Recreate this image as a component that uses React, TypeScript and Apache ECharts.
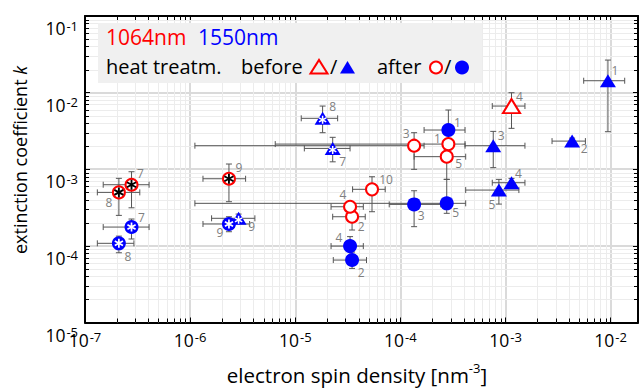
import React, { useEffect, useRef } from "react";
import * as echarts from "echarts";

// Each point: [label, x, y, xLow, xHigh, yLow, yHigh]
type Pt = [string, number, number, number, number, number, number];

const X_MIN = 1e-7;
const X_MAX = 0.0182;
const Y_MIN = 1e-5;
const Y_MAX = 0.1;

// 1064 nm, after heat treatment (open red circles)
const redAfter: Pt[] = [
  ["1", 2.86e-4, 2.13e-3, 6.45e-6, 4.12e-4, 1.85e-3, 2.45e-3],
  ["2", 3.47e-5, 2.4e-4, 2.27e-5, 4.63e-5, 1.61e-4, 2.79e-4],
  ["3", 1.35e-4, 2.03e-3, 1.11e-6, 1.68e-4, 9.97e-4, 3.0e-3],
  ["4", 3.32e-5, 3.24e-4, 2.19e-5, 4.44e-5, 2.5e-4, 3.77e-4],
  ["5", 2.76e-4, 1.46e-3, 1.35e-4, 4.18e-4, 7.38e-4, 1.8e-3],
  ["10", 5.37e-5, 5.47e-4, 3.51e-5, 7.17e-5, 2.79e-4, 7.98e-4],
];
// 1064 nm, after, marked with asterisk
const redAfterStar: Pt[] = [
  ["7", 2.77e-7, 6.28e-4, 1.49e-7, 4.07e-7, 3.14e-4, 9.28e-4],
  ["8", 2.1e-7, 4.99e-4, 1.31e-7, 3.32e-7, 2.5e-4, 7.61e-4],
  ["9", 2.34e-6, 7.52e-4, 1.325e-6, 3.37e-6, 3.77e-4, 1.17e-3],
];
// 1064 nm, before heat treatment (open red triangle)
const redBefore: Pt[] = [
  ["4", 1.14e-3, 6.68e-3, 7.48e-4, 1.53e-3, 3.42e-3, 9.97e-3],
];
// 1550 nm, after (filled blue circles)
const blueAfter: Pt[] = [
  ["1", 2.86e-4, 3.25e-3, 1.68e-4, 4.12e-4, 2.4e-3, 5.93e-3],
  ["2", 3.47e-5, 6.53e-5, 2.3e-5, 4.76e-5, 5.08e-5, 8.3e-5],
  ["3", 1.35e-4, 3.48e-4, 7.83e-5, 2.42e-4, 1.78e-4, 5.24e-4],
  ["4", 3.32e-5, 9.94e-5, 2.19e-5, 4.44e-5, 7.21e-5, 1.32e-4],
  ["5", 2.76e-4, 3.59e-4, 1.11e-6, 4.18e-4, 2.66e-4, 7.38e-4],
];
const blueAfterStar: Pt[] = [
  ["7", 2.77e-7, 1.76e-4, 1.49e-7, 4.07e-7, 1.23e-4, 2.24e-4],
  ["8", 2.1e-7, 1.08e-4, 1.31e-7, 2.92e-7, 8.13e-5, 1.34e-4],
  ["9", 2.34e-6, 1.93e-4, 1.325e-6, 3.68e-6, 1.53e-4, 2.4e-4],
];
// 1550 nm, before (filled blue triangles)
const blueBefore: Pt[] = [
  ["1", 9.42e-3, 1.43e-2, 5.54e-3, 1.36e-2, 3.09e-3, 2.66e-2],
  ["2", 4.3e-3, 2.33e-3, 2.77e-3, 5.75e-3, 2.1e-3, 2.55e-3],
  ["3", 7.64e-4, 2.03e-3, 4.12e-4, 1.53e-3, 1.05e-3, 3.12e-3],
  ["4", 1.14e-3, 6.67e-4, 7.48e-4, 1.53e-3, 5.8e-4, 7.6e-4],
  ["5", 8.65e-4, 5.35e-4, 4.18e-4, 1.34e-3, 3.51e-4, 7.38e-4],
];
const blueBeforeStar: Pt[] = [
  ["7", 2.27e-5, 1.87e-3, 1.22e-5, 3.32e-5, 1.25e-3, 2.61e-3],
  ["8", 1.82e-5, 4.62e-3, 1.14e-5, 2.53e-5, 3.0e-3, 6.68e-3],
  ["9", 2.89e-6, 2.29e-4, 1.6e-6, 4.13e-6, 2.0e-4, 2.6e-4],
];

const xTickDecades = [-7, -6, -5, -4, -3, -2];
const yTickDecades = [-5, -4, -3, -2, -1];

// label offsets in px (style, not data)
const labelOffsets: Record<string, [number, number]> = {
  "ra1": [-11, -6], "ra2": [9, 10], "ra3": [-8, -12], "ra4": [-7, -12], "ra5": [12, 7], "ra10": [14, -10],
  "ra7": [9, -11], "ra8": [-10, 10], "ra9": [10, -11],
  "rb4": [8, -10],
  "ba1": [9, -8], "ba2": [9, 12], "ba3": [7, 11], "ba4": [-11, -9], "ba5": [9, 9],
  "ba7": [10, -10], "ba8": [9, 13], "ba9": [-9, 9],
  "bb1": [7, -10], "bb2": [12, 7], "bb3": [8, -10], "bb4": [7, -9], "bb5": [-7, 14],
  "bb7": [10, 13], "bb8": [10, -12], "bb9": [13, 8],
};

const FONT = "'Open Sans', 'Noto Sans', sans-serif";
const ASTER =
  "path://M-0.9,-5L0.9,-5L0.9,5L-0.9,5Z M3.88,-3.28L4.78,-1.72L-3.88,3.28L-4.78,1.72Z M4.78,1.72L3.88,3.28L-4.78,-1.72L-3.88,-3.28Z";

function fmtPow(v: number) {
  const l = Math.log10(v);
  const e = Math.round(l);
  if (Math.abs(l - e) > 1e-6) return "";
  return `{b|10}{s|${e}}`;
}

const powRich = {
  b: { fontSize: 17.5, fontFamily: FONT, color: "#000", lineHeight: 18, verticalAlign: "bottom", padding: [10, 0, 0, 0] },
  s: { fontSize: 13, fontFamily: FONT, color: "#000", lineHeight: 13, verticalAlign: "top", padding: [0, 0, 0, 1] },
};

function scatterData(arr: Pt[], key: string) {
  return arr.map((p) => ({
    value: [p[1], p[2]],
    label: { show: true, formatter: p[0], offset: labelOffsets[key + p[0]] || [8, -8] },
  }));
}

export default function App() {
  const ref = useRef<HTMLDivElement>(null);
  useEffect(() => {
    document.body.style.margin = "0";
    if (!ref.current) return;
    const chart = echarts.init(ref.current, undefined, { renderer: "svg" });

    const minorData: number[][] = [];
    for (const d of xTickDecades) {
      for (let m = 2; m <= 9; m++) {
        const v = m * Math.pow(10, d);
        if (v < X_MAX) minorData.push([v, 1e-3, 0]);
      }
    }
    for (const d of yTickDecades) {
      for (let m = 2; m <= 9; m++) {
        const v = m * Math.pow(10, d);
        if (v < Y_MAX) minorData.push([1e-5, v, 1]);
      }
    }

    const allPts = [...redAfter, ...redAfterStar, ...redBefore, ...blueAfter, ...blueAfterStar, ...blueBefore, ...blueBeforeStar];
    const errData = allPts.map((p) => [p[1], p[2], p[3], p[4], p[5], p[6]]);

    const labelBase = { position: "inside", color: "#7f7f7f", fontSize: 12, fontFamily: FONT };

    const option: any = {
      animation: false,
      grid: { left: 85, right: 1, top: 16, bottom: 65.5 },
      xAxis: [
        {
          type: "log", logBase: 10, min: X_MIN, max: X_MAX, position: "bottom",
          axisLine: { show: true, onZero: false, lineStyle: { color: "#000", width: 2 } },
          axisTick: { show: true, inside: true, length: 5, lineStyle: { color: "#000", width: 1 } },
          axisLabel: { formatter: fmtPow, rich: powRich, margin: 8 },
          splitLine: { show: true, lineStyle: { color: "#dadada", width: 2 } },
        },
        {
          type: "log", logBase: 10, min: X_MIN, max: X_MAX, position: "top",
          axisLine: { show: true, onZero: false, lineStyle: { color: "#000", width: 2 } },
          axisTick: { show: true, inside: true, length: 5, lineStyle: { color: "#000", width: 1 } },
          axisLabel: { show: false },
          splitLine: { show: false },
        },
      ],
      yAxis: [
        {
          type: "log", logBase: 10, min: Y_MIN, max: Y_MAX, position: "left",
          axisLine: { show: true, onZero: false, lineStyle: { color: "#000", width: 2 } },
          axisTick: { show: true, inside: true, length: 5, lineStyle: { color: "#000", width: 1 } },
          axisLabel: { formatter: fmtPow, rich: powRich, margin: 7, padding: [24, 0, 0, 0] },
          splitLine: { show: true, lineStyle: { color: "#dadada", width: 2 } },
        },
        {
          type: "log", logBase: 10, min: Y_MIN, max: Y_MAX, position: "right",
          axisLine: { show: true, onZero: false, lineStyle: { color: "#000", width: 2 } },
          axisTick: { show: true, inside: true, length: 5, lineStyle: { color: "#000", width: 1 } },
          axisLabel: { show: false },
          splitLine: { show: false },
        },
      ],
      series: [
        {
          type: "custom",
          z: 1,
          silent: true,
          data: minorData,
          encode: { x: 0, y: 1 },
          renderItem: (params: any, api: any) => {
            const cs = params.coordSys;
            const kind = api.value(2);
            if (kind === 0) {
              const p = api.coord([api.value(0), 1e-3]);
              const x = Math.round(p[0]) + 0.5;
              const y0 = cs.y, y1 = cs.y + cs.height;
              return {
                type: "group",
                children: [
                  { type: "line", shape: { x1: x, y1: y0, x2: x, y2: y1 }, style: { stroke: "#ececec", lineWidth: 1 } },
                  { type: "line", shape: { x1: x, y1: y1, x2: x, y2: y1 - 4 }, style: { stroke: "#000", lineWidth: 1 } },
                  { type: "line", shape: { x1: x, y1: y0, x2: x, y2: y0 + 4 }, style: { stroke: "#000", lineWidth: 1 } },
                ],
              };
            }
            const p = api.coord([1e-5, api.value(1)]);
            const y = Math.round(p[1]) + 0.5;
            const x0 = cs.x, x1 = cs.x + cs.width;
            return {
              type: "group",
              children: [
                { type: "line", shape: { x1: x0, y1: y, x2: x1, y2: y }, style: { stroke: "#ececec", lineWidth: 1 } },
                { type: "line", shape: { x1: x0, y1: y, x2: x0 + 4, y2: y }, style: { stroke: "#000", lineWidth: 1 } },
                { type: "line", shape: { x1: x1, y1: y, x2: x1 - 4, y2: y }, style: { stroke: "#000", lineWidth: 1 } },
              ],
            };
          },
        },
        {
          type: "custom",
          z: 2,
          silent: true,
          data: errData,
          encode: { x: [0, 2, 3], y: [1, 4, 5] },
          renderItem: (params: any, api: any) => {
            const x = api.value(0), y = api.value(1);
            const pl = api.coord([api.value(2), y]);
            const pr = api.coord([api.value(3), y]);
            const pb = api.coord([x, api.value(4)]);
            const pt = api.coord([x, api.value(5)]);
            const c = 3;
            const st = { stroke: "#555555", lineWidth: 1 };
            return {
              type: "group",
              children: [
                { type: "line", shape: { x1: pl[0], y1: pl[1], x2: pr[0], y2: pr[1] }, style: st },
                { type: "line", shape: { x1: pl[0], y1: pl[1] - c, x2: pl[0], y2: pl[1] + c }, style: st },
                { type: "line", shape: { x1: pr[0], y1: pr[1] - c, x2: pr[0], y2: pr[1] + c }, style: st },
                { type: "line", shape: { x1: pb[0], y1: pb[1], x2: pt[0], y2: pt[1] }, style: st },
                { type: "line", shape: { x1: pb[0] - c, y1: pb[1], x2: pb[0] + c, y2: pb[1] }, style: st },
                { type: "line", shape: { x1: pt[0] - c, y1: pt[1], x2: pt[0] + c, y2: pt[1] }, style: st },
              ],
            };
          },
        },
        {
          type: "scatter", z: 3, symbol: "circle", symbolSize: 12,
          itemStyle: { color: "#ffffff", borderColor: "#ff0000", borderWidth: 2, opacity: 1 },
          label: labelBase,
          data: [...scatterData(redAfter, "ra"), ...scatterData(redAfterStar, "ra")],
        },
        {
          type: "scatter", z: 3, symbol: "triangle", symbolSize: [17, 14],
          itemStyle: { color: "#ffffff", borderColor: "#ff0000", borderWidth: 2, opacity: 1 },
          label: labelBase,
          data: scatterData(redBefore, "rb"),
        },
        {
          type: "scatter", z: 3, symbol: "circle", symbolSize: 14,
          itemStyle: { color: "#0000ff", opacity: 1 },
          label: labelBase,
          data: [...scatterData(blueAfter, "ba"), ...scatterData(blueAfterStar, "ba")],
        },
        {
          type: "scatter", z: 3, symbol: "triangle", symbolSize: [16, 13],
          itemStyle: { color: "#0000ff", opacity: 1 },
          label: labelBase,
          data: [...scatterData(blueBefore, "bb"), ...scatterData(blueBeforeStar, "bb")],
        },
        {
          type: "scatter", z: 4, symbol: ASTER, symbolSize: 10, silent: true,
          itemStyle: { color: "#000000", opacity: 1 },
          data: redAfterStar.map((p) => [p[1], p[2]]),
        },
        {
          type: "scatter", z: 4, symbol: ASTER, symbolSize: 9, silent: true,
          itemStyle: { color: "#ffffff", opacity: 1 },
          data: blueAfterStar.map((p) => [p[1], p[2]]),
        },
        {
          type: "scatter", z: 4, symbol: ASTER, symbolSize: 8, symbolOffset: [0, 1.5], silent: true,
          itemStyle: { color: "#ffffff", opacity: 1 },
          data: blueBeforeStar.map((p) => [p[1], p[2]]),
        },
      ],
      graphic: [
        { type: "rect", z: 100, shape: { x: 98, y: 23, width: 384, height: 60 }, style: { fill: "#f0f0f0" } },
        { type: "text", z: 101, x: 106, y: 37, style: { text: "1064nm", fill: "#ff0000", font: `21px ${FONT}`, verticalAlign: "middle" } },
        { type: "text", z: 101, x: 198, y: 37, style: { text: "1550nm", fill: "#0000ff", font: `21px ${FONT}`, verticalAlign: "middle" } },
        { type: "text", z: 101, x: 106, y: 66, style: { text: "heat treatm.", fill: "#000", font: `20px ${FONT}`, verticalAlign: "middle" } },
        { type: "text", z: 101, x: 241, y: 66, style: { text: "before", fill: "#000", font: `20px ${FONT}`, verticalAlign: "middle" } },
        { type: "polygon", z: 101, shape: { points: [[310.5, 73.5], [327.5, 73.5], [319, 60]] }, style: { fill: "none", stroke: "#ff0000", lineWidth: 2 } },
        { type: "text", z: 101, x: 330, y: 66, style: { text: "/", fill: "#000", font: `20px ${FONT}`, verticalAlign: "middle" } },
        { type: "polygon", z: 101, shape: { points: [[340, 73.5], [355, 73.5], [347.5, 61]] }, style: { fill: "#0000ff" } },
        { type: "text", z: 101, x: 377, y: 66, style: { text: "after", fill: "#000", font: `20px ${FONT}`, verticalAlign: "middle" } },
        { type: "circle", z: 101, shape: { cx: 436, cy: 67.5, r: 6 }, style: { fill: "#ffffff", stroke: "#ff0000", lineWidth: 2 } },
        { type: "text", z: 101, x: 444, y: 66, style: { text: "/", fill: "#000", font: `20px ${FONT}`, verticalAlign: "middle" } },
        { type: "circle", z: 101, shape: { cx: 462, cy: 67.5, r: 7 }, style: { fill: "#0000ff" } },
        {
          type: "text", z: 101, x: 357, y: 373,
          style: {
            text: "{n|electron spin density [nm}{s|-3}{n|]}",
            align: "center", verticalAlign: "middle",
            rich: {
              n: { fontSize: 20.5, fontFamily: FONT, fill: "#000", lineHeight: 24, verticalAlign: "bottom" },
              s: { fontSize: 13, fontFamily: FONT, fill: "#000", lineHeight: 13, verticalAlign: "top" },
            },
          },
        },
        {
          type: "text", z: 101, x: 20, y: 160, rotation: Math.PI / 2,
          style: {
            text: "{n|extinction coefficient }{i|k}",
            align: "center", verticalAlign: "middle",
            rich: {
              n: { fontSize: 18, fontFamily: FONT, fill: "#000" },
              i: { fontSize: 18, fontFamily: FONT, fill: "#000", fontStyle: "italic" },
            },
          },
        },
      ],
    };
    chart.setOption(option);
    return () => chart.dispose();
  }, []);
  return <div ref={ref} style={{ width: 641, height: 388 }} />;
}
